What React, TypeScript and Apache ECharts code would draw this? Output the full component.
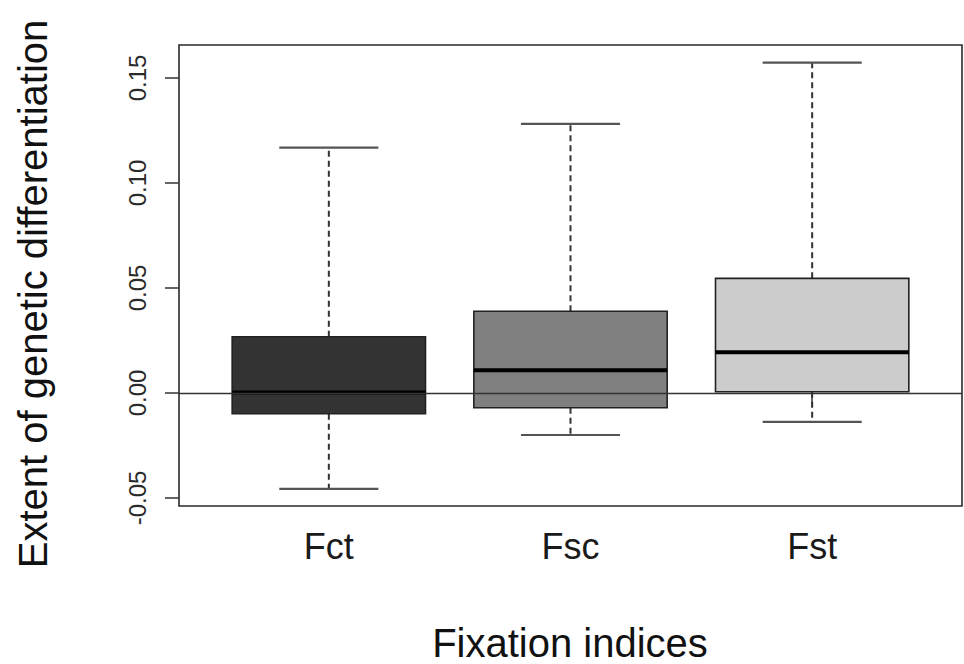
import React, { useEffect, useRef } from "react";
import * as echarts from "echarts";

const categories = ["Fct", "Fsc", "Fst"];
const lowerWhisker = [-0.0456, -0.02, -0.0137];
const q1 = [-0.0099, -0.007, 0.0006];
const median = [0.0003, 0.0108, 0.0194];
const q3 = [0.0268, 0.0389, 0.0546];
const upperWhisker = [0.1168, 0.1281, 0.1573];
const yTicks = [-0.05, 0, 0.05, 0.1, 0.15];
const xTitle = "Fixation indices";
const yTitle = "Extent of genetic differentiation";

const boxFills = ["#333333", "#808080", "#cccccc"];
const FONT = "'Liberation Sans', Arial, Helvetica, sans-serif";

export default function App() {
  const ref = useRef<HTMLDivElement>(null);
  useEffect(() => {
    if (!ref.current) return;
    const chart = echarts.init(ref.current, undefined, { renderer: "svg" });
    const positions = categories.map((_, i) => i + 1);
    const data = categories.map((_, i) => [
      positions[i],
      lowerWhisker[i],
      q1[i],
      median[i],
      q3[i],
      upperWhisker[i],
    ]);
    const option: any = {
      animation: false,
      backgroundColor: "#ffffff",
      grid: {
        left: 179,
        right: 2,
        top: 45,
        bottom: 158,
        show: true,
        borderColor: "#2a2a2a",
        borderWidth: 1.6,
        backgroundColor: "transparent",
      },
      xAxis: {
        type: "value",
        min: 0.38,
        max: 3.62,
        axisLine: { show: false },
        splitLine: { show: false },
        axisTick: {
          show: true,
          inside: false,
          length: 14,
          customValues: positions,
          lineStyle: { color: "#333333", width: 1.5 },
        },
        axisLabel: {
          show: true,
          customValues: positions,
          margin: 22,
          fontSize: 36,
          fontFamily: FONT,
          color: "#1a1a1a",
          formatter: (v: number) => categories[Math.round(v) - 1] ?? "",
        },
      },
      yAxis: {
        type: "value",
        min: -0.0538,
        max: 0.1657,
        axisLine: { show: false },
        splitLine: { show: false },
        axisTick: {
          show: true,
          inside: false,
          length: 14,
          customValues: yTicks,
          lineStyle: { color: "#333333", width: 1.5 },
        },
        axisLabel: {
          show: true,
          customValues: yTicks,
          rotate: 90,
          margin: 30,
          fontSize: 24,
          fontFamily: FONT,
          color: "#2a2a2a",
          formatter: (v: number) => v.toFixed(2),
        },
      },
      graphic: [
        {
          type: "text",
          x: 570,
          y: 643,
          style: {
            text: xTitle,
            fontSize: 40,
            fontFamily: FONT,
            fill: "#111111",
            textAlign: "center",
            textVerticalAlign: "middle",
          },
        },
        {
          type: "text",
          x: 33,
          y: 294,
          rotation: Math.PI / 2,
          style: {
            text: yTitle,
            fontSize: 40,
            fontFamily: FONT,
            fill: "#111111",
            textAlign: "center",
            textVerticalAlign: "middle",
          },
        },
      ],
      series: [
        {
          type: "custom",
          z: 2,
          encode: { x: 0, y: [1, 2, 3, 4, 5] },
          data,
          renderItem: (params: any, api: any) => {
            const x = api.value(0);
            const pLow = api.coord([x, api.value(1)]);
            const pQ1 = api.coord([x, api.value(2)]);
            const pMed = api.coord([x, api.value(3)]);
            const pQ3 = api.coord([x, api.value(4)]);
            const pHigh = api.coord([x, api.value(5)]);
            const boxW = api.size([0.8, 0])[0];
            const capW = api.size([0.41, 0])[0];
            const cx = pMed[0];
            const dashStyle = {
              stroke: "#333333",
              lineWidth: 2,
              lineDash: [6, 4],
            };
            const capStyle = { stroke: "#555555", lineWidth: 2.2 };
            return {
              type: "group",
              children: [
                {
                  type: "line",
                  shape: { x1: cx, y1: pQ3[1], x2: cx, y2: pHigh[1] },
                  style: dashStyle,
                },
                {
                  type: "line",
                  shape: { x1: cx, y1: pQ1[1], x2: cx, y2: pLow[1] },
                  style: dashStyle,
                },
                {
                  type: "line",
                  shape: {
                    x1: cx - capW / 2,
                    y1: pHigh[1],
                    x2: cx + capW / 2,
                    y2: pHigh[1],
                  },
                  style: capStyle,
                },
                {
                  type: "line",
                  shape: {
                    x1: cx - capW / 2,
                    y1: pLow[1],
                    x2: cx + capW / 2,
                    y2: pLow[1],
                  },
                  style: capStyle,
                },
                {
                  type: "rect",
                  shape: {
                    x: cx - boxW / 2,
                    y: pQ3[1],
                    width: boxW,
                    height: pQ1[1] - pQ3[1],
                  },
                  style: {
                    fill: boxFills[params.dataIndex],
                    stroke: "#222222",
                    lineWidth: 1.6,
                  },
                },
                {
                  type: "line",
                  shape: {
                    x1: cx - boxW / 2,
                    y1: pMed[1],
                    x2: cx + boxW / 2,
                    y2: pMed[1],
                  },
                  style: { stroke: "#000000", lineWidth: 4 },
                },
              ],
            };
          },
          markLine: {
            silent: true,
            symbol: "none",
            z: 5,
            label: { show: false },
            lineStyle: { color: "#333333", width: 1.3, type: "solid" },
            data: [{ yAxis: 0 }],
          },
        },
      ],
    };
    chart.setOption(option);
    return () => chart.dispose();
  }, []);
  return (
    <div
      ref={ref}
      style={{
        position: "fixed",
        left: 0,
        top: 0,
        width: 964,
        height: 664,
        background: "#ffffff",
      }}
    />
  );
}
